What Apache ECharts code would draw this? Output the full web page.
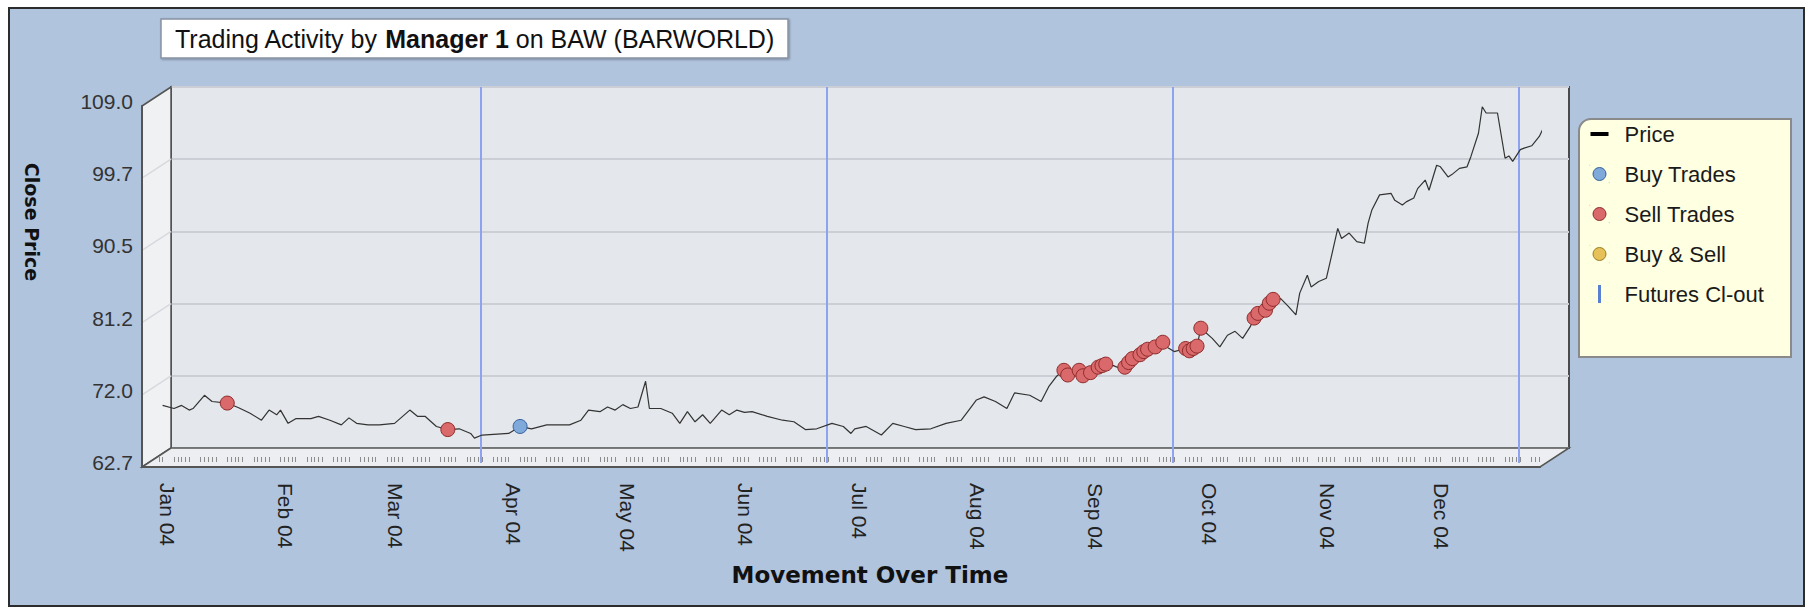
<!DOCTYPE html>
<html>
<head>
<meta charset="utf-8">
<title>Trading Activity by Manager 1 on BAW (BARWORLD)</title>
<script src="https://cdn.jsdelivr.net/npm/echarts@6.0.0/dist/echarts.min.js"></script>
<style>
  html, body { margin: 0; padding: 0; background: #fff; }
  #chartcontainer { width: 1813px; height: 613px; }
</style>
</head>
<body>
<div id="chartcontainer"></div>
<script>
const priceDates = [
  '2004-01-02', '2004-01-05', '2004-01-07', '2004-01-09', '2004-01-10', '2004-01-13', '2004-01-15', '2004-01-19', '2004-01-22', '2004-01-25', '2004-01-28', '2004-01-30',
  '2004-02-01', '2004-02-02', '2004-02-04', '2004-02-06', '2004-02-10', '2004-02-12', '2004-02-15', '2004-02-18', '2004-02-20', '2004-02-22', '2004-02-25', '2004-02-28',
  '2004-03-03', '2004-03-07', '2004-03-09', '2004-03-11', '2004-03-14', '2004-03-17', '2004-03-20', '2004-03-23', '2004-03-24', '2004-03-26',
  '2004-04-02', '2004-04-05', '2004-04-08', '2004-04-12', '2004-04-18', '2004-04-21', '2004-04-23', '2004-04-26', '2004-04-28', '2004-04-30',
  '2004-05-02', '2004-05-04', '2004-05-06', '2004-05-08', '2004-05-09', '2004-05-12', '2004-05-15', '2004-05-17', '2004-05-19', '2004-05-21', '2004-05-23', '2004-05-25', '2004-05-28', '2004-05-30',
  '2004-06-01', '2004-06-03', '2004-06-05', '2004-06-09', '2004-06-13', '2004-06-16', '2004-06-19', '2004-06-22', '2004-06-26', '2004-06-29',
  '2004-07-01', '2004-07-02', '2004-07-05', '2004-07-09', '2004-07-12', '2004-07-15', '2004-07-18', '2004-07-22', '2004-07-26', '2004-07-30',
  '2004-08-01', '2004-08-03', '2004-08-05', '2004-08-08', '2004-08-11', '2004-08-13', '2004-08-17', '2004-08-20', '2004-08-22', '2004-08-24', '2004-08-26', '2004-08-27', '2004-08-30', '2004-08-31',
  '2004-09-02', '2004-09-04', '2004-09-05', '2004-09-06', '2004-09-08', '2004-09-10', '2004-09-11', '2004-09-12', '2004-09-13', '2004-09-15', '2004-09-16', '2004-09-17', '2004-09-19', '2004-09-21', '2004-09-22', '2004-09-24', '2004-09-27', '2004-09-28', '2004-09-29', '2004-09-30',
  '2004-10-01', '2004-10-04', '2004-10-06', '2004-10-08', '2004-10-10', '2004-10-12', '2004-10-14', '2004-10-15', '2004-10-16', '2004-10-18', '2004-10-19', '2004-10-20', '2004-10-22', '2004-10-24', '2004-10-26', '2004-10-27', '2004-10-29', '2004-10-30',
  '2004-11-01', '2004-11-03', '2004-11-04', '2004-11-06', '2004-11-07', '2004-11-09', '2004-11-11', '2004-11-13', '2004-11-14', '2004-11-15', '2004-11-17', '2004-11-20', '2004-11-21', '2004-11-23', '2004-11-24', '2004-11-26', '2004-11-27', '2004-11-29', '2004-11-30',
  '2004-12-02', '2004-12-03', '2004-12-05', '2004-12-06', '2004-12-08', '2004-12-10', '2004-12-11', '2004-12-13', '2004-12-14', '2004-12-15', '2004-12-16', '2004-12-18', '2004-12-20', '2004-12-21', '2004-12-22', '2004-12-24', '2004-12-25', '2004-12-27', '2004-12-29', '2004-12-30', '2004-12-31'
]
const closePrices = [
  70.6, 70.2, 70.6, 70.0, 70.2, 71.9, 71.1, 70.9, 70.3, 69.6, 68.7, 70.0,
  69.4, 70.0, 68.3, 68.9, 68.9, 69.2, 68.7, 68.1, 69.0, 68.3, 68.1, 68.1,
  68.3, 70.0, 69.2, 69.2, 67.9, 67.5, 67.6, 67.0, 66.4, 66.8,
  67.0, 67.9, 67.6, 68.1, 68.1, 68.7, 70.0, 69.8, 70.4, 70.0,
  70.7, 70.2, 70.4, 73.7, 70.2, 70.2, 69.6, 68.3, 69.8, 68.5, 69.4, 68.3, 70.0, 69.4,
  70.0, 69.7, 69.8, 69.2, 68.7, 68.5, 67.5, 67.6, 68.3, 67.9,
  67.0, 67.6, 67.9, 66.8, 68.3, 67.9, 67.5, 67.6, 68.3, 68.7,
  70.0, 71.3, 71.7, 71.1, 70.2, 72.2, 71.9, 71.1, 73.0, 74.3, 75.1, 74.5, 75.1, 74.4,
  74.8, 75.5, 75.7, 75.9, 75.7, 75.3, 75.5, 76.1, 76.6, 77.1, 77.5, 77.8, 78.1, 78.7, 78.1, 77.5, 77.9, 77.6, 77.9, 78.2,
  80.5, 79.2, 78.1, 79.6, 80.1, 79.2, 80.7, 81.8, 82.4, 82.8, 83.7, 84.2, 84.3, 83.3, 82.2, 85.0, 87.3, 85.8,
  86.5, 86.9, 89.0, 93.3, 92.0, 92.7, 91.6, 91.4, 94.0, 95.7, 97.6, 97.8, 96.9, 96.3, 96.7, 97.2, 98.4, 99.5, 98.2,
  101.4, 101.2, 99.9, 100.2, 101.0, 101.2, 102.5, 105.5, 108.9, 108.1, 108.1, 108.1, 102.3, 102.6, 101.9, 103.4, 103.6, 103.9, 105.1, 106.1, 106.1
]
const sellDates = [
  '2004-01-19', '2004-03-17',
  '2004-08-26', '2004-08-27', '2004-08-30', '2004-08-31', '2004-09-02', '2004-09-04', '2004-09-05', '2004-09-06',
  '2004-09-11', '2004-09-12', '2004-09-13', '2004-09-15', '2004-09-16', '2004-09-17', '2004-09-19', '2004-09-21',
  '2004-09-27', '2004-09-28', '2004-09-29', '2004-09-30', '2004-10-01',
  '2004-10-15', '2004-10-16', '2004-10-18', '2004-10-19', '2004-10-20'
]
const sellPrices = [
  70.9, 67.5,
  75.1, 74.5, 75.1, 74.4, 74.8, 75.5, 75.7, 75.9,
  75.5, 76.1, 76.6, 77.1, 77.5, 77.8, 78.1, 78.7,
  77.9, 77.6, 77.9, 78.2, 80.5,
  81.8, 82.4, 82.8, 83.7, 84.2
]
const buyDates = ['2004-04-05']
const buyPrices = [67.9]
const buySellDates = []
const buySellPrices = []
const futuresDates = ['2004-03-18', '2004-06-17', '2004-09-16', '2004-12-16']
const monthTicks = ['2004-01-01', '2004-02-01', '2004-03-01', '2004-04-01', '2004-05-01', '2004-06-01', '2004-07-01', '2004-08-01', '2004-09-01', '2004-10-01', '2004-11-01', '2004-12-01']
const monthLabels = ['Jan 04', 'Feb 04', 'Mar 04', 'Apr 04', 'May 04', 'Jun 04', 'Jul 04', 'Aug 04', 'Sep 04', 'Oct 04', 'Nov 04', 'Dec 04']
const yTicks = [62.7, 71.96, 81.22, 90.48, 99.74, 109.0]
const yTickLabels = ['62.7', '72.0', '81.2', '90.5', '99.7', '109.0']

// back wall of the 3d box, and the shift to its front edge
const back = { left: 171, top: 87, width: 1398, height: 361 }
const depth = { x: -29, y: 19 }
const xMin = new Date(2003, 11, 27, 14).getTime()
const xMax = new Date(2004, 11, 29, 4, 20).getTime()
const font = '"Liberation Sans", Arial, sans-serif'
const boldFont = '"DejaVu Sans", sans-serif'

const toTime = d => {
  const p = d.split('-')
  return new Date(+p[0], p[1] - 1, +p[2]).getTime()
}
const pair = (dates, values) => dates.map((d, i) => [toTime(d), values[i]])

const hatchDays = []
for (let t = new Date(2004, 0, 1); t < new Date(2005, 0, 1); t.setDate(t.getDate() + 1)) {
  if (t.getDay() !== 0 && t.getDay() !== 6) hatchDays.push(t.getTime())
}

// legend icons drawn in a 20x18 box (tiny corner marks keep the box size)
const box = 'M0,0L0.1,0L0.1,0.1Z M19.9,17.9L20,17.9L20,18Z '
const priceIcon = 'path://' + box + 'M1,7L19,7L19,11L1,11Z'
const dotIcon = 'path://' + box + 'M16.5,9A6.5,6.5,0,1,1,3.5,9A6.5,6.5,0,1,1,16.5,9Z'
const barIcon = 'path://' + box + 'M8.5,0L11.5,0L11.5,18L8.5,18Z'

const chart = echarts.init(document.getElementById('chartcontainer'), null, { renderer: 'svg' })

chart.setOption({
  animation: false,
  title: {
    text: '{a|Trading Activity by }{b|Manager 1}{a| on BAW (BARWORLD)}',
    left: 161,
    top: 19,
    padding: [7, 14, 7, 14],
    backgroundColor: '#fff',
    borderColor: '#8793a3',
    borderWidth: 1.5,
    shadowColor: 'rgba(0,0,0,0.3)',
    shadowBlur: 2,
    shadowOffsetX: 1,
    shadowOffsetY: 1,
    textStyle: {
      fontWeight: 'normal',
      rich: {
        a: { fontFamily: font, fontSize: 25, fontWeight: 'normal', color: '#111' },
        b: { fontFamily: font, fontSize: 25, fontWeight: 'bold', color: '#111' }
      }
    }
  },
  legend: {
    orient: 'vertical',
    left: 1589,
    top: 123,
    padding: 0,
    itemWidth: 20,
    itemHeight: 18,
    itemGap: 18,
    selectedMode: false,
    itemStyle: { borderWidth: 1 },
    textStyle: { fontFamily: font, fontSize: 22, color: '#1a1a1a', lineHeight: 22, padding: [0, 0, 0, 10] },
    data: [
      { name: 'Price', icon: priceIcon, itemStyle: { borderWidth: 0 } },
      { name: 'Buy Trades', icon: dotIcon },
      { name: 'Sell Trades', icon: dotIcon },
      { name: 'Buy & Sell', icon: dotIcon },
      { name: 'Futures Cl-out', icon: barIcon, itemStyle: { borderWidth: 0 } }
    ]
  },
  grid: [
    { left: back.left, top: back.top, width: back.width, height: back.height, show: true, backgroundColor: '#e4e7eb', borderColor: '#4b4b4b', borderWidth: 2 },
    { left: back.left + depth.x, top: back.top + depth.y, width: back.width, height: back.height },
    { left: back.left, top: back.top, width: back.width, height: back.height + 15 }
  ],
  xAxis: [
    {
      gridIndex: 0, type: 'value', min: xMin, max: xMax, position: 'bottom',
      axisLine: { show: false }, axisTick: { show: false }, axisLabel: { show: false }, splitLine: { show: false },
      name: 'Movement Over Time', nameLocation: 'middle', nameGap: 115,
      nameTextStyle: { fontFamily: boldFont, fontWeight: 'bold', fontSize: 23, color: '#111' }
    },
    {
      gridIndex: 1, type: 'value', min: xMin, max: xMax, position: 'bottom', z: 3,
      axisLine: { show: true, lineStyle: { color: '#555', width: 2 } },
      axisTick: { show: false },
      splitLine: { show: false },
      axisLabel: {
        customValues: monthTicks.map(toTime),
        formatter: v => monthLabels[new Date(v).getMonth()],
        rotate: -90, margin: 16, verticalAlign: 'bottom', lineHeight: 18,
        fontSize: 21, fontFamily: font, color: '#222'
      }
    },
    {
      gridIndex: 1, type: 'value', min: xMin, max: xMax, position: 'bottom', offset: -5, z: 3,
      axisLine: { show: false }, axisLabel: { show: false }, splitLine: { show: false },
      axisTick: { show: true, inside: true, length: 5, customValues: hatchDays, lineStyle: { color: '#8c8c8c', width: 1 } }
    },
    { gridIndex: 2, type: 'value', min: xMin, max: xMax, show: false }
  ],
  yAxis: [
    {
      gridIndex: 0, type: 'value', min: 62.7, max: 109,
      axisLine: { show: false }, axisLabel: { show: false },
      axisTick: { show: false, customValues: yTicks },
      splitLine: { show: true, lineStyle: { color: '#cbcfd5', width: 2 } }
    },
    {
      gridIndex: 1, type: 'value', min: 62.7, max: 109, z: 3,
      axisLine: { show: true, lineStyle: { color: '#555', width: 2 } },
      axisTick: { show: false, customValues: yTicks },
      splitLine: { show: false },
      axisLabel: {
        customValues: yTicks,
        formatter: v => {
          const i = yTicks.findIndex(t => Math.abs(t - v) < 1e-6)
          return i >= 0 ? yTickLabels[i] : v.toFixed(1)
        },
        fontSize: 21, margin: 9, verticalAlign: 'bottom', lineHeight: 9, color: '#333', fontFamily: font
      }
    },
    { gridIndex: 2, type: 'value', min: 0, max: 1, show: false }
  ],
  series: [
    {
      name: 'Futures Cl-out', type: 'line', xAxisIndex: 3, yAxisIndex: 2, data: [], color: '#5a80d2', z: 2,
      markLine: {
        silent: true,
        symbol: ['none', 'none'],
        label: { show: false },
        lineStyle: { color: '#8ea3f0', width: 2, type: 'solid' },
        data: futuresDates.map(d => ({ xAxis: toTime(d) }))
      }
    },
    {
      name: 'Price', type: 'line', xAxisIndex: 1, yAxisIndex: 1, data: pair(priceDates, closePrices),
      symbol: 'none', showSymbol: false, clip: false, color: '#000', z: 5,
      lineStyle: { color: '#333', width: 1.2 }
    },
    {
      name: 'Buy Trades', type: 'scatter', xAxisIndex: 1, yAxisIndex: 1, data: pair(buyDates, buyPrices),
      symbolSize: 14, clip: false, z: 6,
      itemStyle: { color: '#7ea9da', borderColor: '#34609a', borderWidth: 1, opacity: 1 }
    },
    {
      name: 'Sell Trades', type: 'scatter', xAxisIndex: 1, yAxisIndex: 1, data: pair(sellDates, sellPrices),
      symbolSize: 14, clip: false, z: 6,
      itemStyle: { color: '#d9696b', borderColor: '#8e2b2b', borderWidth: 1, opacity: 1 }
    },
    {
      name: 'Buy & Sell', type: 'scatter', xAxisIndex: 1, yAxisIndex: 1, data: pair(buySellDates, buySellPrices),
      symbolSize: 14, clip: false, z: 6,
      itemStyle: { color: '#e6c15a', borderColor: '#9c7c1e', borderWidth: 1, opacity: 1 }
    }
  ]
})

// box walls, floor and frames around the plot
const bx = back.left, by = back.top, bw = back.width, bh = back.height
const wallLines = yTicks.slice(1, -1).map(t => {
  const yb = chart.convertToPixel({ yAxisIndex: 0 }, t)
  return {
    type: 'line', z: 1, silent: true,
    shape: { x1: bx + depth.x, y1: yb + depth.y, x2: bx, y2: yb },
    style: { stroke: '#d6d9dd', lineWidth: 1.5 }
  }
})

chart.setOption({
  graphic: {
    elements: [
      {
        type: 'rect', z: -10, silent: true,
        shape: { x: 9, y: 8, width: 1795, height: 598 },
        style: { fill: '#b0c4de', stroke: '#2c2c2c', lineWidth: 2 }
      },
      {
        type: 'polygon', z: 1, silent: true,
        shape: { points: [[bx + depth.x, by + depth.y], [bx, by], [bx, by + bh], [bx + depth.x, by + bh + depth.y]] },
        style: { fill: '#f0f1f3', stroke: '#555', lineWidth: 1.5 }
      },
      ...wallLines,
      {
        type: 'polygon', z: 1, silent: true,
        shape: { points: [[bx, by + bh], [bx + bw, by + bh], [bx + bw + depth.x, by + bh + depth.y], [bx + depth.x, by + bh + depth.y]] },
        style: { fill: '#eceef1', stroke: '#555', lineWidth: 1.5 }
      },
      {
        type: 'rect', z: 2, silent: true,
        shape: { x: 1579, y: 119, width: 212, height: 238, r: [12, 0, 0, 0] },
        style: { fill: '#ffffe1', stroke: '#8a8a8a', lineWidth: 2 }
      },
      {
        type: 'text', z: 5, silent: true,
        x: 32, y: 222, rotation: -Math.PI / 2,
        style: { text: 'Close Price', fontFamily: boldFont, fontWeight: 'bold', fontSize: 19, fill: '#111', align: 'center', verticalAlign: 'middle' }
      }
    ]
  }
})
</script>
</body>
</html>
